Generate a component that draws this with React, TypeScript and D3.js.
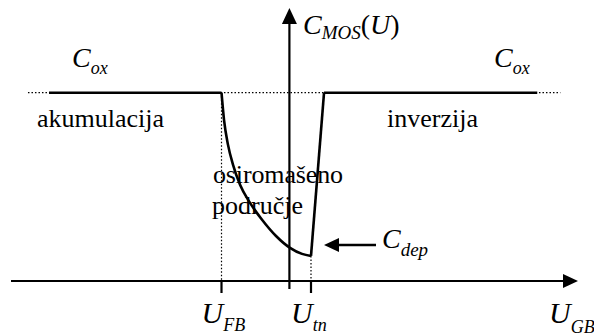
import * as d3 from 'd3';

const W = 594;
const H = 336;

// C(U)/Cox
const depU = [-1.0, -0.963, -0.904, -0.83, -0.727, -0.58, -0.4, -0.197, 0.009, 0.186, 0.318];
const depC = [1.0, 0.856, 0.723, 0.617, 0.511, 0.415, 0.324, 0.239, 0.176, 0.144, 0.133];
const accU = [-3.54, -1.0];
const invRiseU = [0.318, 0.51];
const invRiseC = [0.133, 1.0];
const invU = [0.51, 3.65];
const coxLevel = 1;
const guideU = [-3.85, 3.99];
const tickU = [-1.0, 0.318];
const tickSub = ['FB', 'tn'];

const f = { fontFamily: 'Liberation Serif' };

export default function App() {
  const x = d3.scaleLinear().domain([-4.1, 4.25]).range([11, 578]);
  const y = d3.scaleLinear().domain([0, 1.45]).range([281, 8]);

  const line = d3
    .line()
    .x((d: any) => x(d[0]))
    .y((d: any) => y(d[1]));
  const depLine = d3
    .line()
    .x((d: any) => x(d[0]))
    .y((d: any) => y(d[1]))
    .curve(d3.curveMonotoneX);

  const depPts: any = depU.map((u, i) => [u, depC[i]]);
  const accPts: any = accU.map(u => [u, coxLevel]);
  const risePts: any = invRiseU.map((u, i) => [u, invRiseC[i]]);
  const invPts: any = invU.map(u => [u, coxLevel]);

  const x0 = x(0);
  const yAxis = y(0);
  const yCox = y(coxLevel);
  const uMin = tickU[1];
  const cMin = depC[depC.length - 1];

  const dotted = { stroke: '#000', strokeWidth: 1.2, strokeDasharray: '1.5 2', fill: 'none' };
  const solid = { stroke: '#000', strokeWidth: 2.6, fill: 'none', strokeLinejoin: 'round' as const };

  const arrowY = y(cMin) - 11;

  return (
    <svg width={W} height={H} style={{ position: 'absolute', left: 0, top: 0, background: '#fff' }}>
      {/* dotted Cox guide */}
      <line x1={x(guideU[0])} x2={x(guideU[1])} y1={yCox} y2={yCox} {...dotted} />
      {/* dotted drops */}
      <line x1={x(tickU[0])} x2={x(tickU[0])} y1={yCox} y2={yAxis} {...dotted} />
      <line x1={x(uMin)} x2={x(uMin)} y1={y(cMin)} y2={yAxis} {...dotted} />

      {/* axes */}
      <line x1={11} x2={565} y1={yAxis} y2={yAxis} stroke="#000" strokeWidth={2.2} />
      <polygon points={`578,${yAxis} 563,${yAxis - 7} 563,${yAxis + 7}`} fill="#000" />
      <line x1={x0} x2={x0} y1={y(-0.042)} y2={22} stroke="#000" strokeWidth={2.2} />
      <polygon points={`${x0},8 ${x0 - 7.5},24 ${x0 + 7.5},24`} fill="#000" />

      {/* ticks */}
      {tickU.map(u => (
        <line key={u} x1={x(u)} x2={x(u)} y1={yAxis} y2={yAxis + 12} stroke="#000" strokeWidth={2.2} />
      ))}

      {/* C-V curve */}
      <path d={line(accPts) ?? ''} {...solid} />
      <path d={depLine(depPts) ?? ''} {...solid} />
      <path d={line(risePts) ?? ''} {...solid} />
      <path d={line(invPts) ?? ''} {...solid} />

      {/* Cdep arrow */}
      <line x1={x(uMin) + 65} x2={x(uMin) + 26} y1={arrowY} y2={arrowY} stroke="#000" strokeWidth={2.4} />
      <polygon
        points={`${x(uMin) + 13},${arrowY} ${x(uMin) + 28},${arrowY - 7} ${x(uMin) + 28},${arrowY + 7}`}
        fill="#000"
      />

      {/* symbols */}
      <text x={72} y={67} fontSize={28} style={f}>
        <tspan fontStyle="italic">C</tspan>
        <tspan dy={7} fontSize={18} fontStyle="italic">ox</tspan>
      </text>
      <text x={494} y={67} fontSize={28} style={f}>
        <tspan fontStyle="italic">C</tspan>
        <tspan dy={7} fontSize={18} fontStyle="italic">ox</tspan>
      </text>
      <text x={303} y={34} fontSize={28} style={f}>
        <tspan fontStyle="italic">C</tspan>
        <tspan dy={5} fontSize={19} fontStyle="italic">MOS</tspan>
        <tspan dy={-5}>(</tspan>
        <tspan fontStyle="italic">U</tspan>
        <tspan>)</tspan>
      </text>
      <text x={382} y={arrowY + 3} fontSize={28} style={f}>
        <tspan fontStyle="italic">C</tspan>
        <tspan dy={8} fontSize={19} fontStyle="italic">dep</tspan>
      </text>
      {tickU.map((u, i) => (
        <text key={u} x={x(u) - 20} y={323} fontSize={30} style={f}>
          <tspan fontStyle="italic">U</tspan>
          <tspan dy={8} fontSize={18} fontStyle="italic">{tickSub[i]}</tspan>
        </text>
      ))}
      <text x={549} y={323} fontSize={30} style={f}>
        <tspan fontStyle="italic">U</tspan>
        <tspan dy={10} fontSize={18} fontStyle="italic">GB</tspan>
      </text>

      {/* region labels */}
      <text x={37} y={127} fontSize={26} style={f}>
        akumulacija
      </text>
      <text x={387} y={127} fontSize={26} style={f}>
        inverzija
      </text>
      <text x={213} y={183} fontSize={26} style={f} textLength={130} lengthAdjust="spacing">
        osiromašeno
      </text>
      <text x={212} y={214} fontSize={26} style={f}>
        područje
      </text>
    </svg>
  );
}
